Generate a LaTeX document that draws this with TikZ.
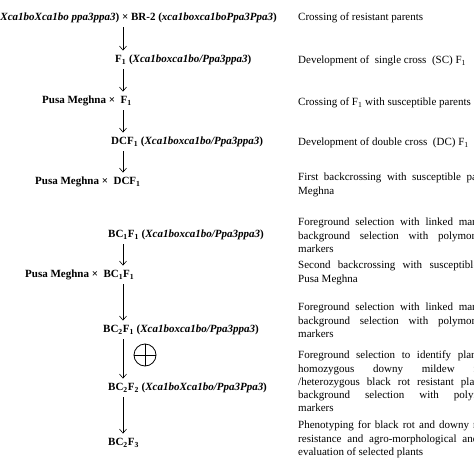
\documentclass[tikz,border=0pt]{standalone}
\usepackage{fontspec}
\setmainfont{Liberation Serif}
\usetikzlibrary{arrows.meta, positioning}
\newcommand{\gn}[1]{\textbf{\textit{#1}}}

\begin{document}
\begin{tikzpicture}[
    x=1pt, y=-1pt,
    every node/.style={inner sep=0pt, font=\fontsize{11}{13.3}\selectfont},
    gen/.style={font=\fontsize{11}{13.3}\selectfont\bfseries, text height=8pt, text depth=2.5pt, inner ysep=4pt, anchor=west},
    note/.style={text width=196pt, align=justify, anchor=north west},
    arrow/.style={-{Straight Barb[length=4pt, width=7pt]}, line width=0.6pt}
]
\useasboundingbox (0,0) rectangle (474,474);
\clip (0,0) rectangle (474,474);
\coordinate (ax) at (123,0);

% crossing scheme
\node[gen, anchor=east] (P) at (277,18) {\gn{Xca1boXca1bo ppa3ppa3}) × BR-2 (\gn{xca1boxca1boPpa3Ppa3})};
\node[gen] (F1) at (115,60) {F\textsubscript{1} (\gn{Xca1boxca1bo/Ppa3ppa3})};
\node[gen] (PM1) at (42,101) {Pusa Meghna ×\ \ F\textsubscript{1}};
\node[gen] (DC) at (111,142) {DCF\textsubscript{1} (\gn{Xca1boxca1bo/Ppa3ppa3})};
\node[gen] (PM2) at (35,182) {Pusa Meghna ×\ \ DCF\textsubscript{1}};
\node[gen] (BC1) at (108,235) {BC\textsubscript{1}F\textsubscript{1} (\gn{Xca1boxca1bo/Ppa3ppa3})};
\node[gen] (PM3) at (25,275) {Pusa Meghna ×\ \ BC\textsubscript{1}F\textsubscript{1}};
\node[gen] (BC2) at (103,330) {BC\textsubscript{2}F\textsubscript{1} (\gn{Xca1boxca1bo/Ppa3ppa3})};
\node[gen] (BC22) at (108,388) {BC\textsubscript{2}F\textsubscript{2} (\gn{Xca1boXca1bo/Ppa3Ppa3})};
\node[gen] (BC23) at (108,443) {BC\textsubscript{2}F\textsubscript{3}};

\draw[arrow] (P.south -| ax) -- (F1.north -| ax);
\draw[arrow] (F1.south -| ax) -- (PM1.north -| ax);
\draw[arrow] (PM1.south -| ax) -- (DC.north -| ax);
\draw[arrow] (DC.south -| ax) -- (PM2.north -| ax);
\draw[arrow] (BC1.south -| ax) -- (PM3.north -| ax);
\draw[arrow] (PM3.south -| ax) -- (BC2.north -| ax);
\draw[arrow] (BC2.south -| ax) -- (BC22.north -| ax);
\draw[arrow] (BC22.south -| ax) -- (BC23.north -| ax);

% selfing
\node[circle, draw, line width=0.8pt, minimum size=22pt] (self) at (145,355) {};
\draw[line width=0.8pt] (self.north) -- (self.south) (self.west) -- (self.east);

% steps
\node[note] (s1) at (298,11.2) {\strut Crossing of resistant parents};
\node[note] (s2) at (298,54.2) {\strut Development of\ \ single cross\ \ (SC) F\textsubscript{1}};
\node[note] (s3) at (298,96.2) {\strut Crossing of F\textsubscript{1} with susceptible parents};
\node[note] (s4) at (298,136.2) {\strut Development of double cross\ \ (DC) F\textsubscript{1}};
\node[note] (s5) at (298,171.2) {\strut First backcrossing with susceptible parent\linebreak Meghna};
\node[note] (s6) at (298,216.2) {\strut Foreground selection with linked markers\linebreak background selection with polymorphic\linebreak markers};
\node[note, text width=215pt] (s7) at (298,259.2) {\strut Second backcrossing with susceptible parent\linebreak Pusa Meghna};
\node[note] (s8) at (298,301.2) {\strut Foreground selection with linked markers\linebreak background selection with polymorphic\linebreak markers};
\node[note, text width=212pt] (s9) at (298,349.2) {\strut Foreground selection to identify plants with\linebreak homozygous downy mildew resistant\linebreak /heterozygous black rot resistant plants and\linebreak background selection with polymorphic\linebreak markers};
\node[note, text width=208pt] (s10) at (298,419.2) {\strut Phenotyping for black rot and downy mildew\linebreak resistance and agro-morphological and yield\linebreak evaluation of selected plants};
\end{tikzpicture}
\end{document}
